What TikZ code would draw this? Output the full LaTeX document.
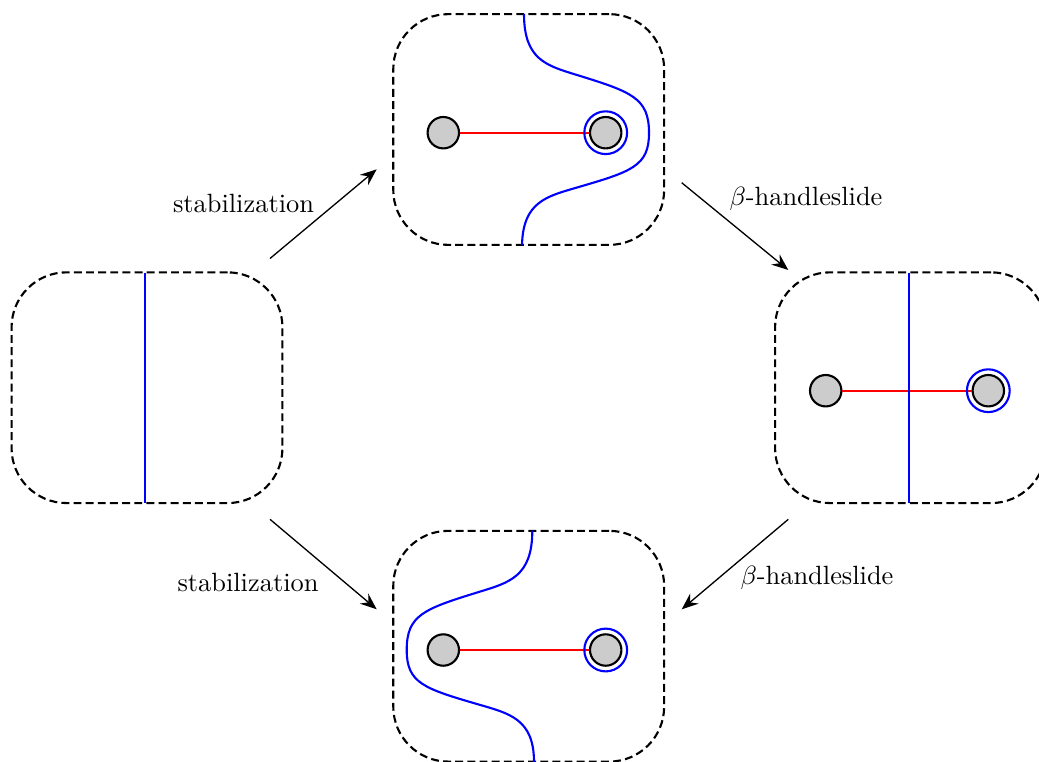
\documentclass[tikz,border=0pt]{standalone}
\usetikzlibrary{arrows.meta}
\begin{document}
\begin{tikzpicture}[x=0.3788pt,y=-0.3788pt,
  box/.style={draw, line width=0.8pt, dash pattern=on 3pt off 1.6pt, rounded corners=20.8pt,
    minimum width=102.6pt, minimum height=87.4pt, inner sep=0pt},
  disk/.style={circle, draw, line width=0.8pt, fill=black!20, minimum size=11.9pt, inner sep=0pt},
  bline/.style={blue, line width=0.8pt},
  rline/.style={red, line width=0.8pt},
  ring/.style={blue, line width=0.8pt},
  arr/.style={line width=0.5pt, -{Stealth[length=6.3pt,width=5pt,inset=2.2pt]}},
  lab/.style={anchor=base, inner sep=0pt}]
\useasboundingbox (0,0) rectangle (1039,761);
% boxes
\node[box] (L) at (147,387.7) {};
\node[box] (T) at (528.7,129.5) {};
\node[box] (R) at (910.5,387.7) {};
\node[box] (B) at (528.7,646.2) {};
% left box
\draw[bline] (145,272.7) -- (145,502.7);
% top box
\node[disk] (t1) at (443.3,132.7) {};
\node[disk] (t2) at (605.7,132.7) {};
\draw[rline] (t1) -- (t2);
\draw[ring] (t2.center) circle[radius=8.1pt];
\begin{scope}[shift={(649,133)}]
\draw[bline] (-125,-119) .. controls (-125,-73) and (-102,-67.3) .. (-72,-58)
  .. controls (-17,-41) and (0,-35) .. (0,0)
  .. controls (0,33) and (-17,38.5) .. (-72,54.5)
  .. controls (-102,63.3) and (-126,68.6) .. (-127,112);
\end{scope}
% right box
\node[disk] (r1) at (825.7,390.7) {};
\node[disk] (r2) at (988.3,390.7) {};
\draw[rline] (r1) -- (r2);
\draw[ring] (r2.center) circle[radius=8.1pt];
\draw[bline] (909,272.7) -- (909,502.7);
% bottom box
\node[disk] (b1) at (443.3,650) {};
\node[disk] (b2) at (605.7,650) {};
\draw[rline] (b1) -- (b2);
\draw[ring] (b2.center) circle[radius=8.1pt];
\begin{scope}[shift={(406.7,650)}, xscale=-1]
\draw[bline] (-125.6,-119.3) .. controls (-125.6,-73) and (-102,-67.3) .. (-72,-58)
  .. controls (-17,-41) and (0,-35) .. (0,0)
  .. controls (0,33) and (-17,38.5) .. (-72,54.5)
  .. controls (-102,63.3) and (-127.3,68.6) .. (-127.3,112);
\end{scope}
% arrows
\coordinate (a1s) at (270,258.5);
\coordinate (a1e) at (376.7,169.3);
\coordinate (a2s) at (681.7,182.7);
\coordinate (a2e) at (788.3,270);
\coordinate (a3s) at (270,519.3);
\coordinate (a3e) at (376.7,609.3);
\coordinate (a4s) at (788.3,519.3);
\coordinate (a4e) at (681.7,609.3);
\draw[arr] (a1s) -- (a1e);
\draw[arr] (a2s) -- (a2e);
\draw[arr] (a3s) -- (a3e);
\draw[arr] (a4s) -- (a4e);
% labels
\node[lab] (l1) at (243.5,212.3) {stabilization};
\node[lab] (l2) at (806,205) {$\beta$-handleslide};
\node[lab] (l3) at (248,591) {stabilization};
\node[lab] (l4) at (817,584) {$\beta$-handleslide};
\end{tikzpicture}
\end{document}
